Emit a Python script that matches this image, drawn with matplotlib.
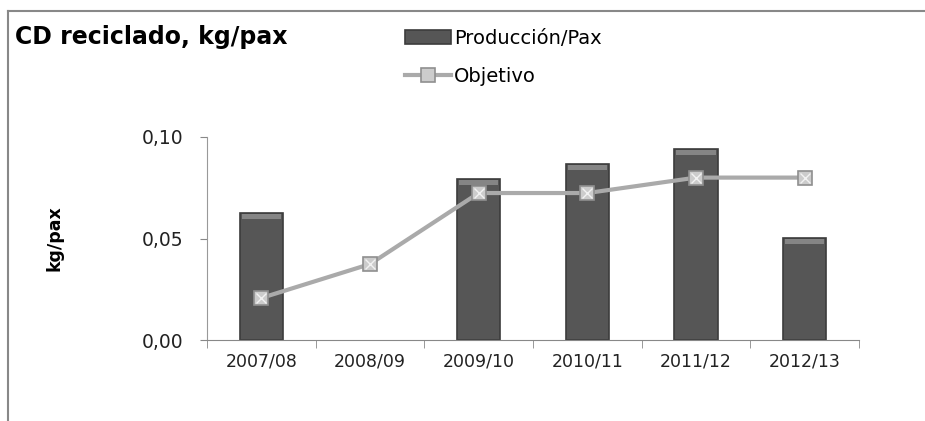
import matplotlib.pyplot as plt
from matplotlib.lines import Line2D
import numpy as np

years = ["2007/08", "2008/09", "2009/10", "2010/11", "2011/12", "2012/13"]
produccion = [0.0626, np.nan, 0.0793, 0.0867, 0.094, 0.0502]
objetivo = [0.0207, 0.0374, 0.0724, 0.0724, 0.080, 0.080]
yticks = [0.0, 0.05, 0.10]
ytick_labels = ["0,00", "0,05", "0,10"]

plt.rcParams['font.family'] = ['DejaVu Sans']

fig = plt.figure(figsize=(9.25, 4.21), dpi=100)
ax = fig.add_axes([207 / 925, 1 - 340 / 421, (859 - 207) / 925, (340 - 137) / 421])

x = np.arange(len(years))
prod = np.array(produccion)
ok = ~np.isnan(prod)
ax.bar(x[ok], prod[ok], width=0.4, color="#565656",
       edgecolor="#3c3c3c", linewidth=1.2, zorder=2, label="Producción/Pax")
# lighter bevel at the top of each bar
for xi, v in zip(x[ok], prod[ok]):
    ax.bar(xi, 0.0025, bottom=v - 0.0028, width=0.36, color="#858585",
           linewidth=0, zorder=3)

ax.plot(x, objetivo, color="#aaaaaa", linewidth=3, marker="s", markersize=10,
        markerfacecolor="#cccccc", markeredgecolor="#8f8f8f", markeredgewidth=1.2,
        zorder=4, label="Objetivo")
ax.plot(x, objetivo, linestyle="none", marker="x", markersize=7,
        markeredgecolor="#f2f2f2", markeredgewidth=1.0, zorder=5)

ax.set_xlim(-0.5, len(years) - 0.5)
ax.set_ylim(0, 0.10)
ax.set_yticks(yticks)
ax.set_yticklabels(ytick_labels, fontsize=13.5, color="#222222")
ax.set_xticks(x)
ax.set_xticklabels(years, fontsize=12.5, color="#222222")
ax.set_xticks(np.arange(len(years) + 1) - 0.5, minor=True)
ax.tick_params(axis="x", which="major", length=0, pad=9)
ax.tick_params(axis="x", which="minor", length=6, color="#888888")
ax.tick_params(axis="y", length=5, color="#888888", pad=12)
for s in ["top", "right"]:
    ax.spines[s].set_visible(False)
ax.spines["left"].set_color("#999999")
ax.spines["bottom"].set_color("#888888")
ax.set_ylabel("kg/pax", fontsize=12.5, fontweight="bold", labelpad=56)

fig.text(15 / 925, 1 - 37 / 421, "CD reciclado, kg/pax", fontsize=17,
         fontweight="bold", va="center", ha="left")

handles, labels = ax.get_legend_handles_labels()
fig.legend(handles[::-1], labels[::-1], loc="upper left", bbox_to_anchor=(397 / 925, 1 - 21 / 421),
           frameon=False, fontsize=14, handlelength=2.4, handletextpad=0.15,
           labelspacing=1.0, borderaxespad=0)

fig.add_artist(Line2D([8 / 925, 8 / 925], [0, 1 - 11 / 421], color="#888888", linewidth=1.5))
fig.add_artist(Line2D([8 / 925, 1], [1 - 11 / 421, 1 - 11 / 421], color="#888888", linewidth=1.5))

fig.savefig("out.png", dpi=100)
